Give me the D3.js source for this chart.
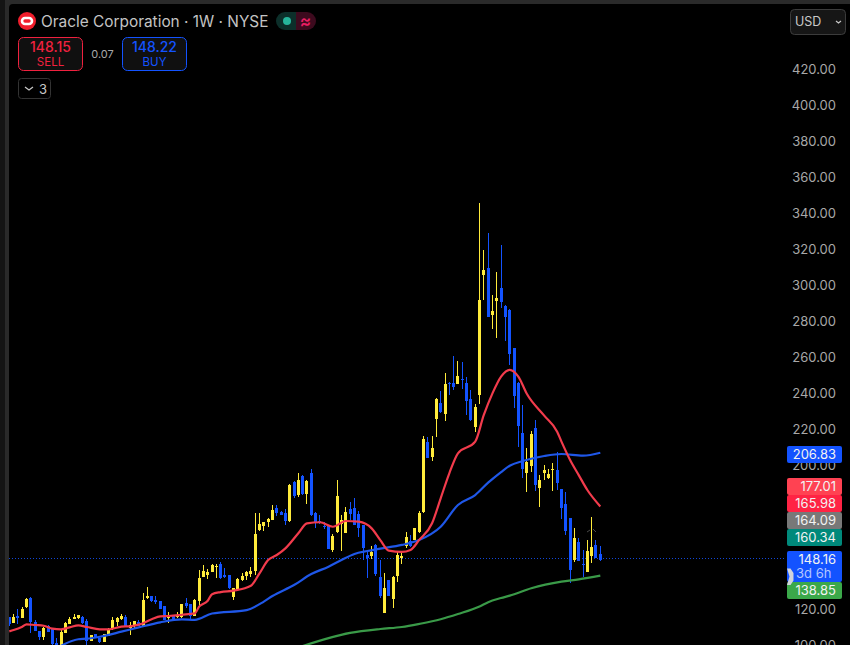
<!DOCTYPE html>
<html>
<head>
<meta charset="utf-8">
<script src="https://cdn.jsdelivr.net/npm/d3@7"></script>
<style>
  html, body { margin: 0; padding: 0; background: #000; overflow: hidden; }
  svg { display: block; font-family: Inter, "Noto Sans", sans-serif; }
</style>
</head>
<body>
<div id="chart"></div>
<script>
// weekly candles
const opens = [115.4,112.2,116.1,115,120.9,126.1,112.8,107.8,104.4,110.6,108.9,101.1,98,106.7,111.7,114.4,115,115.6,113.3,102.2,106.1,103.9,101.7,105,108.9,112.8,114.4,115.6,109.4,110.6,112.8,110.6,126.1,127.2,125,124.4,121.7,115,116.1,115.6,115.6,123.3,122.8,116.1,124.4,137.8,138.9,140.6,143.3,145,138.9,138.9,126.7,131.1,136.1,138.3,139.4,141.1,163.9,166.1,168.3,169.4,176.1,173.9,173.3,168.9,190.5,183.3,193.9,183.9,195.6,173.3,168.9,166.1,166.7,152.8,162.8,167.2,162.2,175.5,176.1,172.8,166.7,150,149.4,155.5,137.8,117.8,136.1,125.5,138.3,148.3,155,157.8,158.3,162.8,173.9,212.8,204.4,225.5,234.4,228.3,245.5,245.5,245,247.8,245.5,236.7,221.1,238.9,305.6,309.4,283.3,291.1,298.3,288.3,286.1,265,245.6,217.8,195.6,199.4,220.6,187.2,195.6,192.8,197.2,197.2,186.7,178.3,170.6,147.2,157.2,145,140.5,149.4,155.5,150.5];
const closes = [111.7,115.4,115,120,125.6,112.8,107.8,104.4,109.4,107.2,100.6,98,107.2,112.2,114.4,115.6,116.7,112.2,102.2,105.5,103.9,101.7,106.1,108.9,113.9,115,116.1,110,111.1,113.3,110.6,125,127.2,124.2,123.9,120,113.9,116.7,114.4,116.1,122.8,121.7,116.1,125,137.2,141.1,140.6,144.4,143.9,137.2,137.8,131.7,131.7,136.7,138.3,140.6,141.1,161.7,167.2,168.3,170,175,173.3,172.2,168.9,188.9,182.8,191.7,183.9,191.1,172.2,168.3,167.8,165.6,153.3,160.6,182.8,169.4,173.9,172.8,166.7,165,153.9,148.3,151.7,139.4,127.2,131.7,127.2,137.8,150,149.4,160,155,165,173.3,214.4,203.9,209.4,236.7,229.4,245,245,243.3,249.4,247.2,235.5,225,232.2,291.7,308.3,282.2,285.6,292.8,290.6,282.2,261.7,238.3,221.7,197.8,201.7,217.2,188.9,191.7,197.2,195,197.8,190,176.1,163.3,141.7,159.4,146.7,144.4,152.2,154.4,148.3,147.2];
const highs = [115.4,117.2,120,121.1,126.1,126.5,113.9,107.8,109.8,111.1,109.4,103.9,108.3,113,115.6,117.2,116.7,115.9,114.4,105.5,106.1,103.9,106.1,109.2,115.4,115.6,117.2,116.7,112.8,113.3,113.9,128.9,132.2,127.2,127.2,124.4,121.7,118.3,116.7,118.3,122.8,126.1,122.8,125.6,141.7,144.4,142.2,145,145,146.1,142.8,138.9,131.7,137.2,140,141.1,143.3,173.3,173.3,168.3,170.5,177.8,177.8,174.4,175.5,189.4,191.1,195.6,194.4,191.7,197.8,173.9,172.2,168.3,166.7,161.7,191.7,172.2,176.7,179.4,181.7,174.4,166.7,151.7,155,156.1,147.2,140,136.1,138.3,152.2,152.2,162.8,161.1,165,174.4,216.1,215.5,216.1,237,241.1,251.1,246.1,260.6,257.8,257.2,248.9,241.7,233.9,345.6,319.4,328.9,294.4,307.2,322.2,288.9,286.7,265,246.1,233.3,209.4,218.9,225,194.4,200,197.8,201.1,207.2,186.7,185,170.6,165,159.4,152.8,158.3,171.1,158.3,155];
const lows = [110.6,112.2,111.7,115,120.6,106.9,107.8,102.8,102.8,107.2,100,96,97,106.7,111.7,114.4,114.4,111.7,100,102.2,103.9,101.1,101.7,105,108.3,110.6,113.9,110,105.5,108.9,110.6,110.6,125.6,123.9,122.8,120,113.9,112.2,113.9,115,115,120.6,114.4,116.1,121.7,137.8,136.7,140.6,137.2,136.7,137.2,131.1,125,131.1,135.6,136.1,137.8,138.9,163.3,163.3,165.6,169.4,171.7,172.2,166.7,168.3,181.7,182.2,183.3,178.3,171.7,165,167.2,164.4,153.3,151.7,162.2,152.2,162.2,169.4,166.7,160,147.2,137.2,147.8,138.3,126.1,117.8,127.2,120.6,135,145,153.9,154.4,158.3,162.2,173.3,203.9,202.2,215.5,228.9,224.4,238.9,241.7,245,242.2,227.8,224.4,218.3,233.9,291.7,282.2,275.6,270.6,287.2,268.9,255.6,231.7,210,192.8,185,196.1,185.5,176.7,191.7,192.2,185.5,186.1,170,161.1,134.4,146.1,146.7,137.8,140.5,145.5,148.3,146.7];

// moving averages, sampled at these candle numbers
const redIdx = [0,1,3,4,6,8,10,12,14,16,18,21,23,26,28,30,33,35,37,40,43,44,46,47,49,52,56,58,60,62,64,67,69,72,75,78,81,84,86,88,91,93,95,98,100,102,104,108,110,112,114,116,118,120,124,127,128,130,132,134,137];
const redVals = [107.6,108.3,110.2,111.5,111.1,110.7,109.1,108.7,109.8,110.9,110,108.7,108.7,110.2,110.4,111.3,114.3,115.9,116.1,116.8,117.6,121.3,124.6,128.2,129.4,130.2,132.9,139.8,147.2,150,153.7,162.1,167.6,168.2,165.7,168.9,168.5,164.8,158.3,152.4,151.7,152.8,158.3,167.6,181.5,195.4,206.5,213,227.8,239.8,249.1,252.9,249.1,239.4,227.4,218.5,213,202.8,194.4,186.1,177];
const blueIdx = [12,16,18,21,26,30,35,40,43,47,55,59,61,66,70,74,77,80,83,86,91,95,100,104,108,111,114,116,119,124,128,133,137];
const blueVals = [99.6,103.2,103.5,104.6,107.4,109.8,112.6,114.2,114,117.5,119.4,124.1,127.2,133.3,139.4,143.5,147.2,150.6,152.2,153.5,155.6,158.3,165.7,177.8,183.3,190.2,196.1,199.6,202.2,205,206.1,205.2,206.8];
const greenIdx = [68,79,86,91,95,100,104,109,111,114,116,121,128,132,137];
const greenVals = [99.4,106.7,108.9,110,111.7,114.3,117.2,121.4,123.8,126.1,127.4,131.5,135.2,136.5,138.5];

// 140, 160 and 180 sit under the price labels, so they don't show
const tickValues = [100,120,200,220,240,260,280,300,320,340,360,380,400,420];
const lastPrice = 148.16;
const pillLabels = ["206.83", "177.01", "165.98", "164.09", "160.34", "148.16", "138.85"];
const pillColors = ["#1353ff", "#ff4252", "#ff2344", "#787878", "#00897b", "#1353ff", "#3ba84a"];
const pillTops = [446, 478, 495, 512, 529, 551, 582];

const width = 850, height = 645;
const yellow = "#ffeb3b", blue = "#1353ff";

const svg = d3.select("#chart").append("svg")
  .attr("width", width).attr("height", height);

const x = d3.scaleLinear().domain([0, opens.length - 1]).range([9.3, 600.3]);
const y = d3.scaleLinear().domain([100, 420]).range([645, 69]);

// frame
svg.append("rect").attr("width", width).attr("height", height).attr("fill", "#2a2a2a");
svg.append("rect").attr("width", 5).attr("height", height).attr("fill", "#141414");
svg.append("rect").attr("x", 9).attr("y", 4).attr("width", width).attr("height", height)
  .attr("rx", 4).attr("fill", "#000");

svg.append("defs").append("clipPath").attr("id", "plot")
  .append("rect").attr("x", 9).attr("y", 4).attr("width", 780).attr("height", 641);
const plot = svg.append("g").attr("clip-path", "url(#plot)");

// last price dotted line
plot.append("line")
  .attr("x1", 9).attr("x2", 785)
  .attr("y1", Math.round(y(lastPrice)) + 0.5).attr("y2", Math.round(y(lastPrice)) + 0.5)
  .attr("stroke", blue).attr("stroke-dasharray", "1 2")
  .attr("stroke-opacity", 0.85)
  .attr("shape-rendering", "crispEdges");

// candles
const candles = plot.selectAll(".candle").data(opens).enter().append("g").attr("class", "candle")
  .attr("fill", (d, i) => closes[i] >= d ? yellow : blue)
  .attr("shape-rendering", "crispEdges");
candles.append("rect")
  .attr("x", (d, i) => Math.floor(x(i)))
  .attr("width", 1)
  .attr("y", (d, i) => y(highs[i]))
  .attr("height", (d, i) => y(lows[i]) - y(highs[i]));
candles.append("rect")
  .attr("x", (d, i) => Math.floor(x(i)) - 1)
  .attr("width", 3)
  .attr("y", (d, i) => y(Math.max(d, closes[i])))
  .attr("height", (d, i) => Math.max(1, Math.abs(y(d) - y(closes[i]))));

// moving averages
function drawLine(idx, vals, color) {
  const line = d3.line()
    .x(d => x(d))
    .y((d, i) => y(vals[i]))
    .curve(d3.curveMonotoneX);
  plot.append("path")
    .attr("d", line(idx))
    .attr("fill", "none")
    .attr("stroke", color)
    .attr("stroke-width", 2.2);
}
drawLine(greenIdx, greenVals, "#3a9a48");
drawLine(blueIdx, blueVals, "#1f57e8");
drawLine(redIdx, redVals, "#f23b4c");

// faint marker above the last candles
plot.append("path")
  .attr("d", "M587 532l3 -2M593 529l3 3")
  .attr("stroke", "#4a4a4a").attr("fill", "none");

// price axis
const axis = svg.append("g")
  .attr("transform", "translate(836,0)")
  .call(d3.axisLeft(y).tickValues(tickValues).tickSize(0).tickPadding(0).tickFormat(d3.format(".2f")));
axis.select(".domain").remove();
axis.selectAll("text")
  .attr("fill", "#a8a8a8")
  .attr("font-size", 13)
  .attr("font-family", "Inter, sans-serif");

// price labels on the axis
pillLabels.forEach((label, i) => {
  const isLast = label === String(lastPrice);
  const h = isLast ? 31 : 17;
  svg.append("rect")
    .attr("x", 787).attr("y", pillTops[i])
    .attr("width", 55).attr("height", h)
    .attr("rx", 2)
    .attr("fill", pillColors[i]);
  svg.append("text")
    .attr("x", 836).attr("y", pillTops[i] + 13)
    .attr("text-anchor", "end")
    .attr("font-size", 13)
    .attr("fill", "#f2f2f2")
    .text(label);
  if (isLast) {
    svg.append("text")
      .attr("x", 796).attr("y", pillTops[i] + 27)
      .attr("font-size", 13)
      .attr("fill", "#b4c6ff")
      .text("3d 6h");
  }
});
svg.append("path")
  .attr("d", "M787 568.5h3.5l3 4.5v7.5l-3 4.5h-3.5l2.5 -8.5z")
  .attr("fill", "#d0d4dc");

// header
svg.append("circle").attr("cx", 27).attr("cy", 21).attr("r", 9).attr("fill", "#f01e2c");
svg.append("rect").attr("x", 22).attr("y", 18).attr("width", 10).attr("height", 6)
  .attr("rx", 3).attr("fill", "none").attr("stroke", "#fff").attr("stroke-width", 2.6);

svg.append("text")
  .attr("x", 41).attr("y", 27)
  .attr("font-size", 15.4).attr("fill", "#c4c4c4")
  .text("Oracle Corporation · 1W · NYSE");

svg.append("path").attr("d", "M296 12h-11a9 9 0 0 0 0 18h11z").attr("fill", "#0c2f2a");
svg.append("path").attr("d", "M296 12h11a9 9 0 0 1 0 18h-11z").attr("fill", "#3d0a1e");
svg.append("circle").attr("cx", 287).attr("cy", 21).attr("r", 4).attr("fill", "#26b59b");
svg.append("text")
  .attr("x", 305.5).attr("y", 26.5).attr("text-anchor", "middle")
  .attr("font-size", 17).attr("font-weight", 600).attr("fill", "#e91e63").text("≈");

function quoteBox(left, color, price, side) {
  svg.append("rect")
    .attr("x", left + 0.5).attr("y", 37.5).attr("width", 64).attr("height", 33)
    .attr("rx", 5).attr("fill", "#101010").attr("stroke", color);
  svg.append("text")
    .attr("x", left + 32.5).attr("y", 52).attr("text-anchor", "middle")
    .attr("font-size", 14).attr("font-weight", 500).attr("fill", color).text(price);
  svg.append("text")
    .attr("x", left + 32.5).attr("y", 65.5).attr("text-anchor", "middle")
    .attr("font-size", 11.5).attr("fill", color).text(side);
}
quoteBox(18, "#f0213f", "148.15", "SELL");
quoteBox(122, "#1353ff", "148.22", "BUY");
svg.append("text")
  .attr("x", 102.5).attr("y", 58).attr("text-anchor", "middle")
  .attr("font-size", 11).attr("fill", "#a8a8a8").text("0.07");

svg.append("rect")
  .attr("x", 18.5).attr("y", 78.5).attr("width", 32).attr("height", 20)
  .attr("rx", 3).attr("fill", "#000").attr("stroke", "#333");
svg.append("path").attr("d", "M25 87l4 3l4 -3").attr("fill", "none").attr("stroke", "#c8c8c8").attr("stroke-width", 1.2);
svg.append("text").attr("x", 39).attr("y", 94).attr("font-size", 13).attr("fill", "#c8c8c8").text("3");

svg.append("rect")
  .attr("x", 790.5).attr("y", 9.5).attr("width", 55).attr("height", 25)
  .attr("rx", 4).attr("fill", "#161616").attr("stroke", "#3c3c3c");
svg.append("text").attr("x", 795).attr("y", 26).attr("font-size", 12.5).attr("fill", "#c8c8c8").text("USD");
svg.append("path").attr("d", "M836 21l2.5 2l2.5 -2").attr("fill", "none").attr("stroke", "#c8c8c8").attr("stroke-width", 1.2);
</script>
</body>
</html>
